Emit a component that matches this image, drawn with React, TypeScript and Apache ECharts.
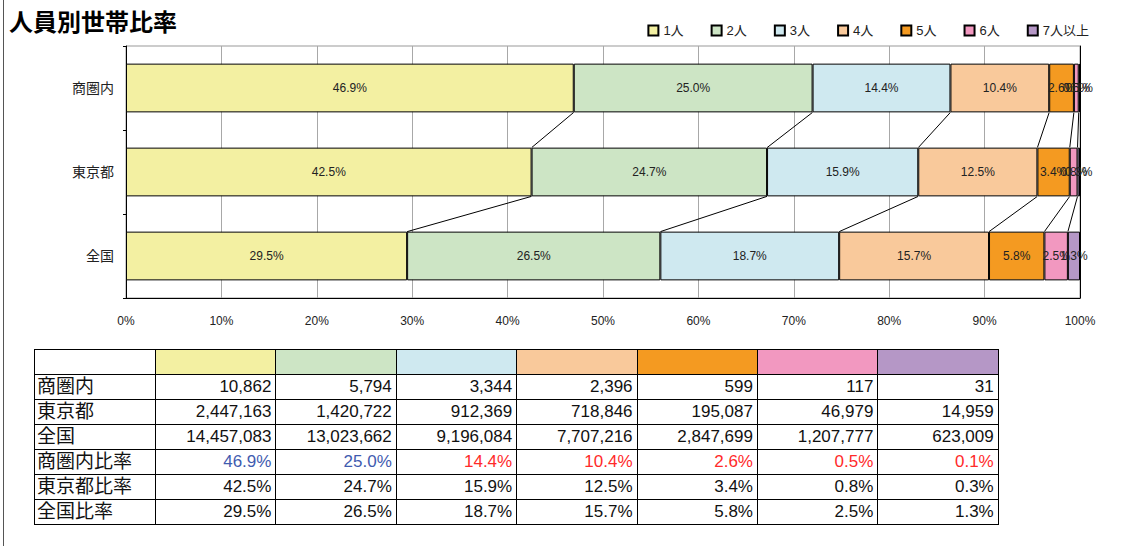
import React, { useEffect, useRef } from "react";
import * as echarts from "echarts";

const title = "人員別世帯比率";
const categories = ["商圏内", "東京都", "全国"];
const seriesNames = ["1人", "2人", "3人", "4人", "5人", "6人", "7人以上"];
const colors = ["#F3F0A2", "#CDE5C5", "#CFE9F0", "#F9C99B", "#F49A21", "#F298C0", "#B597C6"];
const xTicks = [0, 10, 20, 30, 40, 50, 60, 70, 80, 90, 100];

// household counts per area (rows) and size (columns)
const countsShoken = [10862, 5794, 3344, 2396, 599, 117, 31];
const countsTokyo = [2447163, 1420722, 912369, 718846, 195087, 46979, 14959];
const countsZenkoku = [14457083, 13023662, 9196084, 7707216, 2847699, 1207777, 623009];

// displayed ratios (%)
const pctShoken = [46.9, 25.0, 14.4, 10.4, 2.6, 0.5, 0.1];
const pctTokyo = [42.5, 24.7, 15.9, 12.5, 3.4, 0.8, 0.3];
const pctZenkoku = [29.5, 26.5, 18.7, 15.7, 5.8, 2.5, 1.3];

const countRows = [countsShoken, countsTokyo, countsZenkoku];
const pctRows = [pctShoken, pctTokyo, pctZenkoku];
const tableRowLabels = ["商圏内", "東京都", "全国", "商圏内比率", "東京都比率", "全国比率"];
const shokenPctColors = ["#3F5BAF", "#3F5BAF", "#FF2A2A", "#FF2A2A", "#FF2A2A", "#FF2A2A", "#FF2A2A"];

const FONT = "'Liberation Sans', 'Noto Sans CJK JP', sans-serif";

function Chart() {
  const ref = useRef<HTMLDivElement>(null);
  useEffect(() => {
    if (!ref.current) return;
    const chart = echarts.init(ref.current, undefined, { renderer: "svg" });
    const totals = countRows.map((r) => r.reduce((a, b) => a + b, 0));
    const shares = countRows.map((r, i) => r.map((v) => (v / totals[i]) * 100));
    const barSeries = seriesNames.map((name, k) => ({
      name,
      type: "bar",
      stack: "total",
      barWidth: "58%",
      data: categories.map((_, i) => shares[i][k]),
      itemStyle: { color: colors[k], borderColor: "#000", borderWidth: 1 },
      label: {
        show: true,
        position: "inside",
        fontSize: 12,
        fontFamily: FONT,
        color: "#222",
        formatter: (p: any) => pctRows[p.dataIndex][k].toFixed(1) + "%",
      },
      emphasis: { disabled: true },
    }));
    // series connecting lines between adjacent bars
    const lineData: number[][] = [];
    for (let i = 0; i < categories.length - 1; i++) {
      let a = 0;
      let b = 0;
      for (let k = 0; k < seriesNames.length - 1; k++) {
        a += shares[i][k];
        b += shares[i + 1][k];
        lineData.push([a, b, i]);
      }
    }
    const connector = {
      type: "custom",
      name: "connector",
      renderItem: (params: any, api: any) => {
        const i = api.value(2);
        const p1 = api.coord([api.value(0), i]);
        const p2 = api.coord([api.value(1), i + 1]);
        const half = api.size([0, 1])[1] * 0.29;
        return {
          type: "line",
          shape: { x1: p1[0], y1: p1[1] + half, x2: p2[0], y2: p2[1] - half },
          style: { stroke: "#000", lineWidth: 1 },
        };
      },
      data: lineData,
      encode: { x: [0, 1] },
      z: 5,
      silent: true,
    };
    chart.setOption({
      animation: false,
      title: {
        text: title,
        left: 9,
        top: 8,
        padding: 0,
        textStyle: { fontSize: 24, fontWeight: "bold", color: "#000", fontFamily: "'Noto Sans CJK JP', sans-serif" },
      },
      legend: {
        data: seriesNames,
        right: 48,
        top: 19,
        itemWidth: 10,
        itemHeight: 10,
        itemGap: 27,
        icon: "rect",
        textStyle: { fontSize: 13, color: "#222", fontFamily: FONT },
        selectedMode: false,
      },
      grid: {
        left: 126,
        right: 62,
        top: 46,
        height: 252,
        show: true,
        borderColor: "#999",
        borderWidth: 1,
      },
      xAxis: {
        type: "value",
        min: xTicks[0],
        max: xTicks[xTicks.length - 1],
        interval: xTicks[1] - xTicks[0],
        axisLine: { show: true, lineStyle: { color: "#000" } },
        axisTick: { show: false },
        splitLine: { show: true, lineStyle: { color: "#A8A8A8" } },
        axisLabel: { fontSize: 12, color: "#222", margin: 17, fontFamily: FONT, formatter: "{value}%" },
      },
      yAxis: [
        {
          type: "category",
          data: categories,
          inverse: true,
          axisLine: { show: true, lineStyle: { color: "#000" } },
          axisTick: { show: true, length: 3, lineStyle: { color: "#000" } },
          axisLabel: { fontSize: 14, color: "#222", margin: 12, fontFamily: FONT },
        },
        {
          type: "category",
          data: categories,
          inverse: true,
          position: "right",
          axisLine: { show: true, lineStyle: { color: "#000" } },
          axisTick: { show: false },
          axisLabel: { show: false },
        },
      ],
      series: [...barSeries, connector],
    });
    return () => chart.dispose();
  }, []);
  return <div ref={ref} style={{ position: "absolute", left: 0, top: 0, width: 1142, height: 340 }} />;
}

const cellBase: React.CSSProperties = {
  border: "1px solid #000",
  height: 24,
  padding: "0 4px",
  fontSize: 17,
  lineHeight: "24px",
  whiteSpace: "nowrap",
  overflow: "hidden",
};

function DataTable() {
  const rows: { label: string; cells: string[]; colors?: string[] }[] = [
    ...countRows.map((r, i) => ({ label: tableRowLabels[i], cells: r.map((v) => v.toLocaleString("en-US")) })),
    ...pctRows.map((r, i) => ({
      label: tableRowLabels[3 + i],
      cells: r.map((v) => v.toFixed(1) + "%"),
      colors: i === 0 ? shokenPctColors : undefined,
    })),
  ];
  return (
    <table
      style={{
        position: "absolute",
        left: 34,
        top: 349,
        borderCollapse: "collapse",
        tableLayout: "fixed",
        width: 964,
        fontFamily: FONT,
        color: "#111",
      }}
    >
      <colgroup>
        <col style={{ width: 121 }} />
        {seriesNames.map((n) => (
          <col key={n} style={{ width: 120.4 }} />
        ))}
      </colgroup>
      <tbody>
        <tr>
          <td style={{ ...cellBase }}></td>
          {colors.map((c, k) => (
            <td key={k} style={{ ...cellBase, background: c }}></td>
          ))}
        </tr>
        {rows.map((row) => (
          <tr key={row.label}>
            <td style={{ ...cellBase, fontSize: 19, textAlign: "left", padding: "0 2px" }}>{row.label}</td>
            {row.cells.map((c, k) => (
              <td key={k} style={{ ...cellBase, textAlign: "right", color: row.colors ? row.colors[k] : "#111" }}>
                {c}
              </td>
            ))}
          </tr>
        ))}
      </tbody>
    </table>
  );
}

export default function App() {
  return (
    <div style={{ position: "fixed", left: 0, top: 0, width: 1142, height: 546, background: "#fff", overflow: "hidden" }}>
      <div style={{ position: "absolute", left: 3, top: 0, width: 1, height: 546, background: "#555" }} />
      <Chart />
      <DataTable />
    </div>
  );
}
